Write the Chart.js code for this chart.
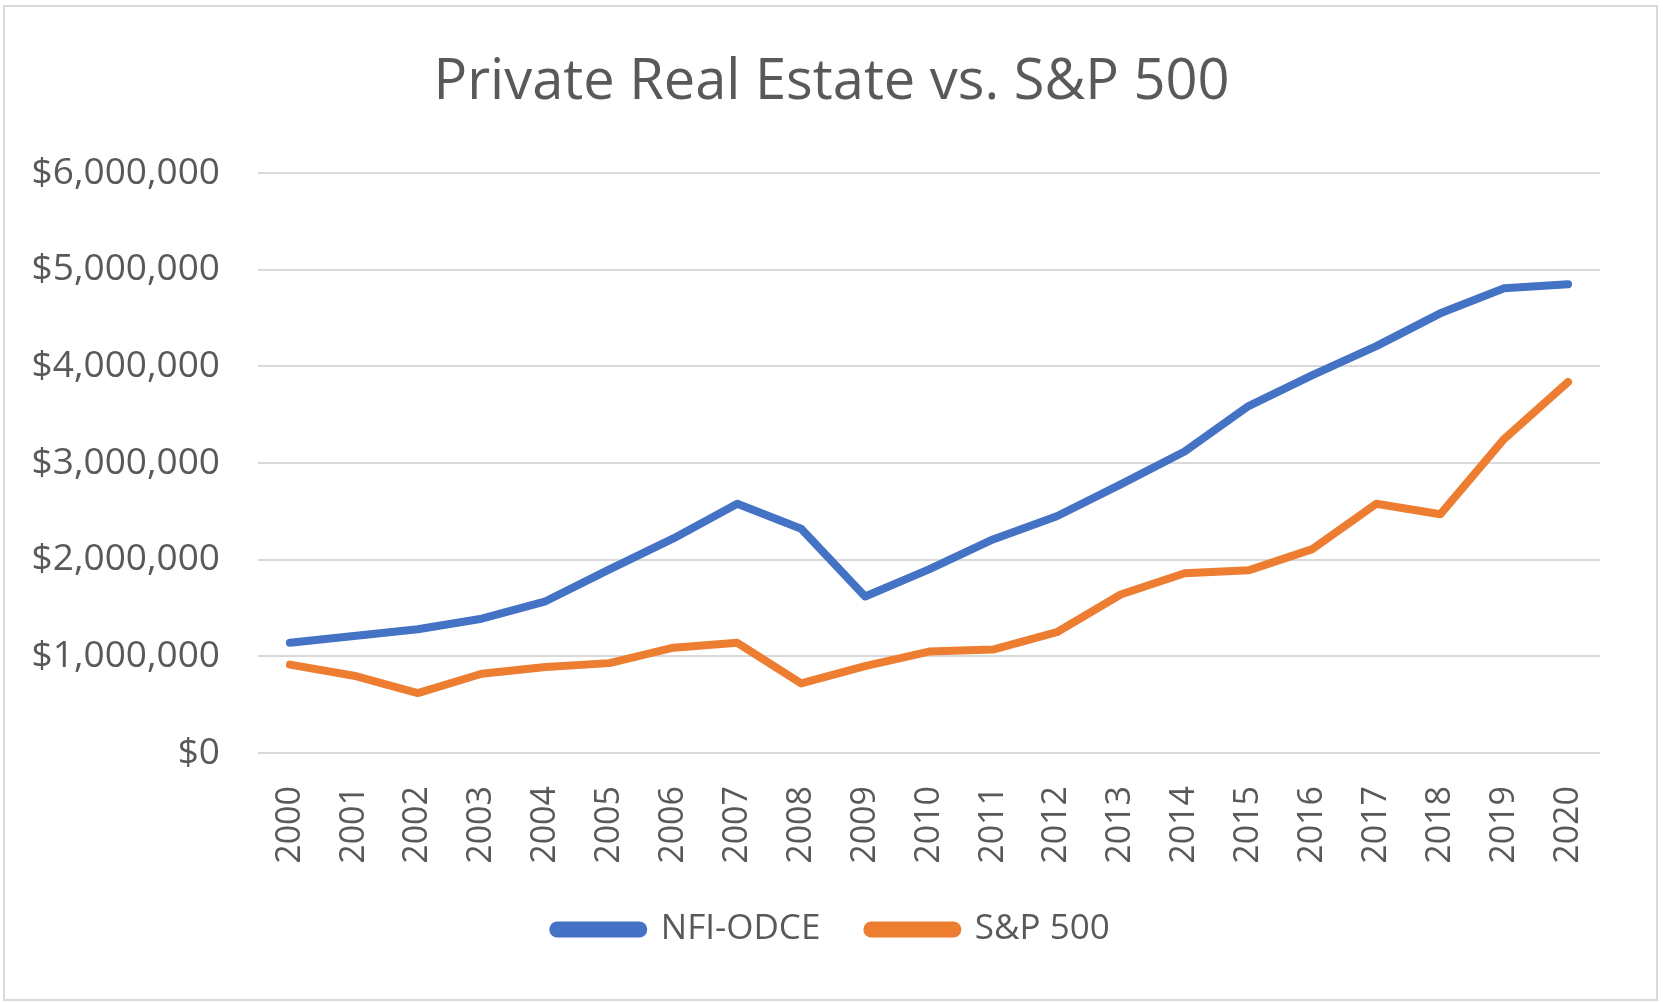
<!DOCTYPE html>
<html lang="en">
<head>
    <meta charset="UTF-8">
    <title>Private Real Estate vs. S&amp;P 500</title>
    <script src="https://cdn.jsdelivr.net/npm/chart.js"></script>
    <style>
        html, body {
            margin: 0;
            padding: 0;
            background: #ffffff;
            overflow: hidden;
        }
        .frame {
            position: absolute;
            left: 3px;
            top: 5px;
            width: 1651px;
            height: 992px;
            border: 2px solid #d9d9d9;
            pointer-events: none;
        }
        .chart-box {
            position: absolute;
            left: 0;
            top: 0;
            width: 1663px;
            height: 1002px;
        }
    </style>
</head>
<body>
    <div class="chart-box"><canvas id="reChart"></canvas></div>
    <div class="frame"></div>

    <script>
        // values (dollars)
        const years = ["2000", "2001", "2002", "2003", "2004", "2005", "2006", "2007", "2008", "2009", "2010",
                       "2011", "2012", "2013", "2014", "2015", "2016", "2017", "2018", "2019", "2020"];
        const nfiOdce = [1140000, 1210000, 1280000, 1390000, 1570000, 1900000, 2220000, 2580000, 2320000, 1620000, 1900000,
                         2210000, 2450000, 2780000, 3120000, 3590000, 3910000, 4210000, 4550000, 4810000, 4850000];
        const sp500 = [915000, 800000, 620000, 820000, 890000, 930000, 1090000, 1140000, 720000, 900000, 1050000,
                       1070000, 1250000, 1640000, 1860000, 1890000, 2110000, 2580000, 2470000, 3250000, 3840000];
        const yTicks = [0, 1000000, 2000000, 3000000, 4000000, 5000000, 6000000];

        const textColor = '#595959';
        const fontFamily = "'Open Sans', sans-serif";

        const ctx = document.getElementById('reChart').getContext('2d');
        const reChart = new Chart(ctx, {
            type: 'line',
            data: {
                labels: years,
                datasets: [{
                    label: 'NFI-ODCE',
                    data: nfiOdce,
                    borderColor: '#4472c4',
                    backgroundColor: '#4472c4',
                    borderWidth: 8,
                    pointRadius: 0,
                    borderCapStyle: 'round',
                    borderJoinStyle: 'round',
                    tension: 0
                }, {
                    label: 'S&P 500',
                    data: sp500,
                    borderColor: '#ed7d31',
                    backgroundColor: '#ed7d31',
                    borderWidth: 8,
                    pointRadius: 0,
                    borderCapStyle: 'round',
                    borderJoinStyle: 'round',
                    tension: 0
                }]
            },
            options: {
                responsive: true,
                maintainAspectRatio: false,
                animation: false,
                layout: {
                    padding: { left: 0, right: 0, top: 0, bottom: 45 }
                },
                scales: {
                    x: {
                        offset: true,
                        grid: { display: false },
                        border: { display: false },
                        ticks: {
                            color: textColor,
                            font: { family: fontFamily, size: 34 },
                            minRotation: 90,
                            maxRotation: 90,
                            autoSkip: false,
                            padding: 25
                        },
                        afterFit: function(scale) {
                            scale.height = 112;
                        }
                    },
                    y: {
                        min: 0,
                        max: 6000000,
                        afterBuildTicks: function(scale) {
                            scale.ticks = yTicks.map(v => ({ value: v }));
                        },
                        grid: {
                            color: '#d9d9d9',
                            lineWidth: 2,
                            drawTicks: false
                        },
                        border: { display: false },
                        ticks: {
                            color: textColor,
                            font: { family: fontFamily, size: 37 },
                            padding: 38,
                            callback: function(value) {
                                return '$' + value.toLocaleString('en-US');
                            }
                        },
                        afterFit: function(scale) {
                            scale.width = 258;
                        }
                    },
                    // empty right margin so the title and legend stay centred on the page
                    yRight: {
                        position: 'right',
                        min: 0,
                        max: 6000000,
                        grid: { display: false },
                        border: { display: false },
                        ticks: { display: false },
                        afterFit: function(scale) {
                            scale.width = 63;
                        }
                    }
                },
                plugins: {
                    title: {
                        display: true,
                        text: 'Private Real Estate vs. S&P 500',
                        color: textColor,
                        font: { family: fontFamily, size: 56, weight: 'normal' },
                        padding: { top: 49, bottom: 57 }
                    },
                    legend: {
                        display: true,
                        position: 'bottom',
                        labels: {
                            color: textColor,
                            font: { family: fontFamily, size: 35 },
                            boxWidth: 90,
                            boxHeight: 8,
                            useBorderRadius: true,
                            borderRadius: 4,
                            padding: 47
                        }
                    },
                    tooltip: { enabled: false }
                }
            }
        });
    </script>
</body>
</html>
